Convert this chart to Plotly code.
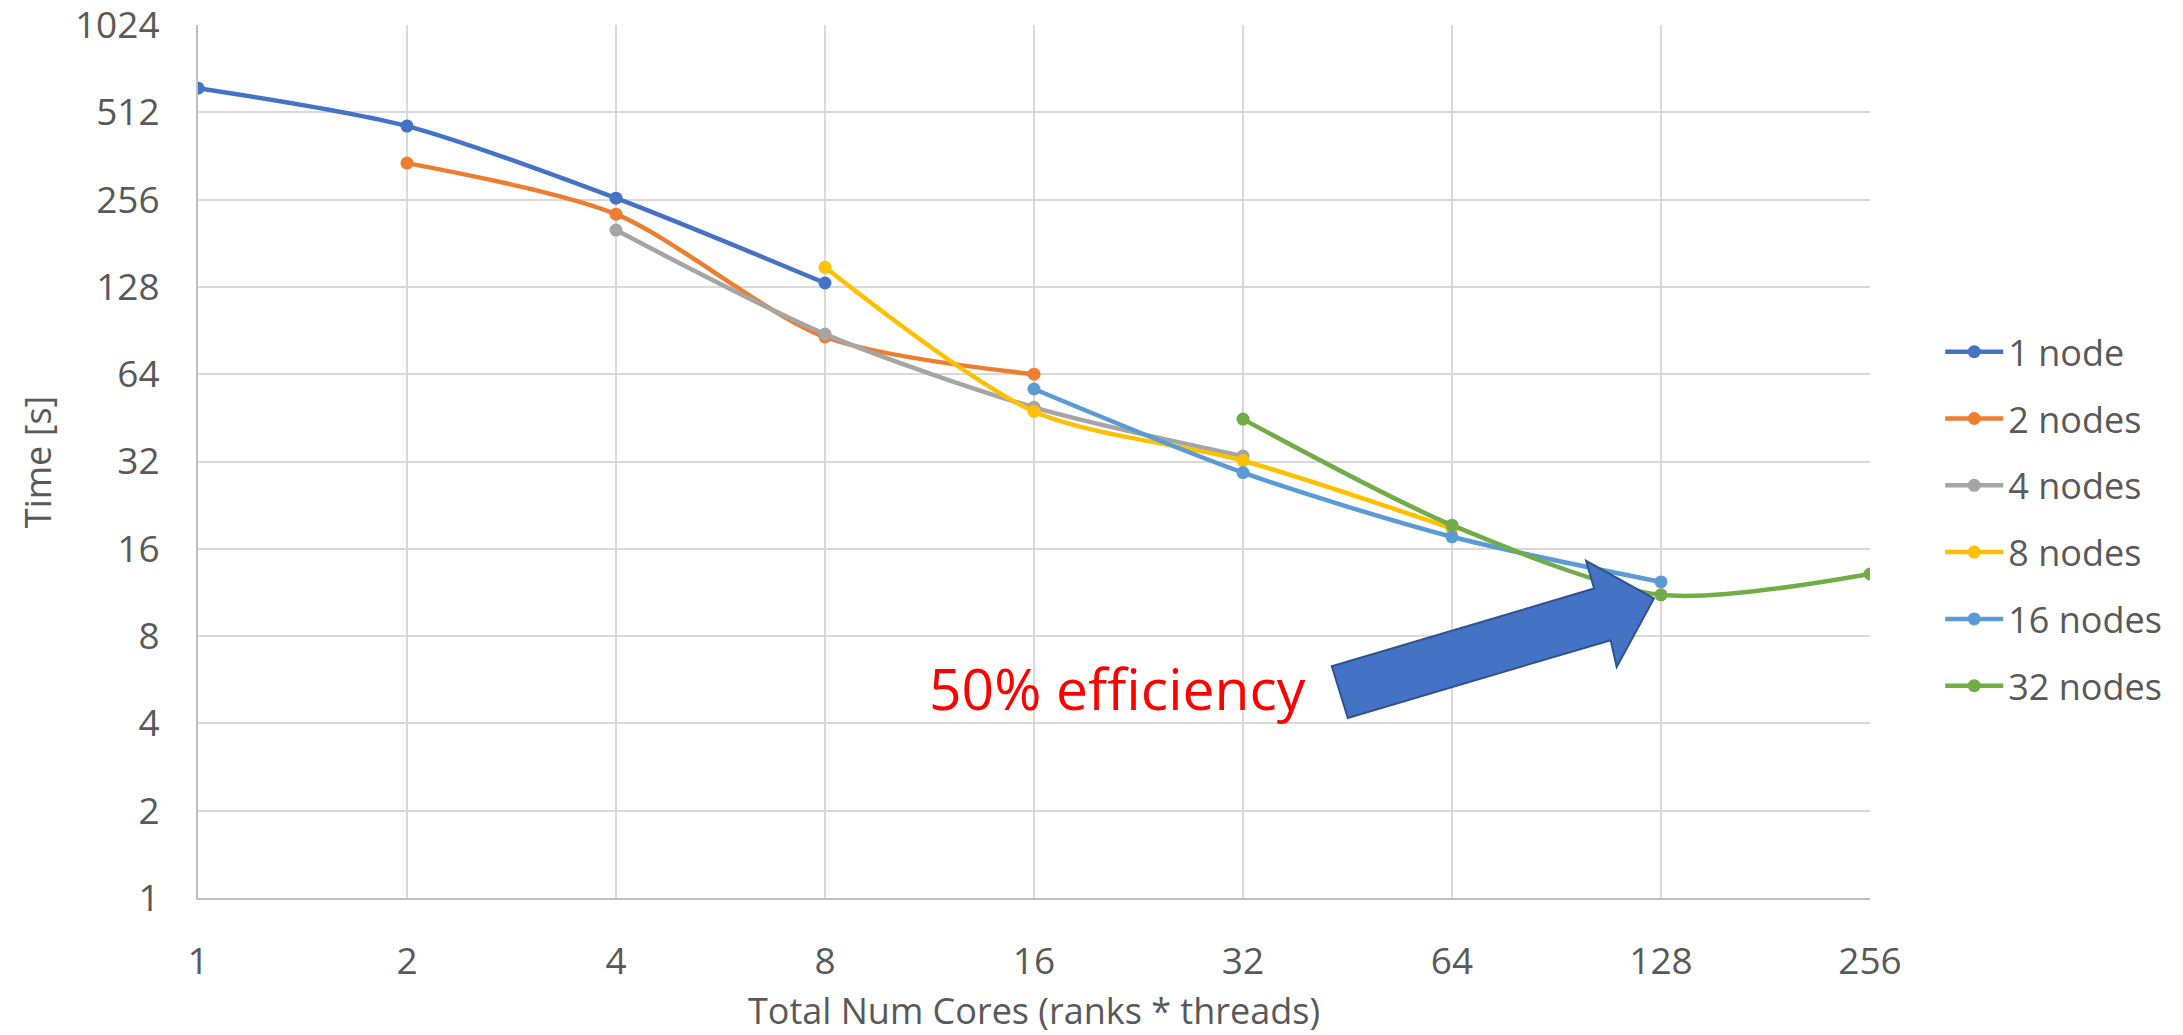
import plotly.graph_objects as go

# ---- data ----
series_names = ["1 node", "2 nodes", "4 nodes", "8 nodes", "16 nodes", "32 nodes"]
series_colors = ["#4472C4", "#ED7D31", "#A5A5A5", "#FFC000", "#5B9BD5", "#70AD47"]

cores_1 = [1, 2, 4, 8]
time_1 = [620, 459, 259, 132]

cores_2 = [2, 4, 8, 16]
time_2 = [342, 228, 86, 64]

cores_4 = [4, 8, 16, 32]
time_4 = [201, 88, 49.2, 33.4]

cores_8 = [8, 16, 32, 64]
time_8 = [149.5, 47.6, 32.2, 18.8]

cores_16 = [16, 32, 64, 128]
time_16 = [56.9, 29.3, 17.6, 12.3]

cores_32 = [32, 64, 128, 256]
time_32 = [44.8, 19.3, 11.1, 13.1]

x_ticks = [1, 2, 4, 8, 16, 32, 64, 128, 256]
y_ticks = [1, 2, 4, 8, 16, 32, 64, 128, 256, 512, 1024]

xs = [cores_1, cores_2, cores_4, cores_8, cores_16, cores_32]
ys = [time_1, time_2, time_4, time_8, time_16, time_32]

# arrow outline (paper coordinates)
arrow_x = [0.6781, 0.8350, 0.8302, 0.8708, 0.8485, 0.8449, 0.6877]
arrow_y = [0.2655, 0.3545, 0.3862, 0.3431, 0.2647, 0.2953, 0.2063]

FONT = "Open Sans"
TXT = "#595959"

fig = go.Figure()
for i, (name, col, x, y) in enumerate(zip(series_names, series_colors, xs, ys)):
    fig.add_trace(go.Scatter(
        x=x, y=y, name=name, mode="lines+markers",
        line=dict(color=col, width=4.5, shape="spline", smoothing=0.8),
        marker=dict(color=col, size=13),
        legendgroup=f"g{i}",
    ))

path = "M " + " L ".join(f"{a},{b}" for a, b in zip(arrow_x, arrow_y)) + " Z"
fig.add_shape(type="path", path=path, xref="paper", yref="paper",
              fillcolor="#4472C4", line=dict(color="#2F528F", width=2), layer="above")

fig.add_annotation(text="50% efficiency", xref="paper", yref="paper",
                   x=0.436, y=0.2403, xanchor="left", yanchor="middle",
                   showarrow=False, font=dict(family=FONT, size=57, color="#FF0000"))

# y-axis title placed as rotated text
fig.add_annotation(text="Time [s]", xref="paper", yref="paper",
                   x=-0.0959, y=0.5, xanchor="center", yanchor="middle",
                   textangle=-90, showarrow=False,
                   font=dict(family=FONT, size=36, color=TXT))

fig.update_layout(
    width=2183, height=1035,
    margin=dict(l=198, r=313, t=25, b=137, autoexpand=False),
    paper_bgcolor="white", plot_bgcolor="white",
    font=dict(family=FONT, size=36, color=TXT),
    showlegend=True,
    legend=dict(x=1.042, y=0.66, xanchor="left", yanchor="top",
                font=dict(family=FONT, size=36, color=TXT),
                itemwidth=58, tracegroupgap=17, bgcolor="rgba(0,0,0,0)"),
)

fig.update_xaxes(
    type="log", range=[0, 2.40824], tickvals=x_ticks, ticktext=[str(v) for v in x_ticks],
    showgrid=True, gridcolor="#D9D9D9", gridwidth=2,
    showline=True, linecolor="#BFBFBF", linewidth=2,
    ticks="", ticklabelstandoff=30, zeroline=False, automargin=False,
    ticklabeloverflow="allow",
    tickfont=dict(family=FONT, size=37, color=TXT),
    title=dict(text="Total Num Cores (ranks * threads)", standoff=21,
               font=dict(family=FONT, size=36, color=TXT)),
)
fig.update_yaxes(
    type="log", range=[0, 3.0103], tickvals=y_ticks, ticktext=[str(v) for v in y_ticks],
    showgrid=True, gridcolor="#D9D9D9", gridwidth=2,
    showline=True, linecolor="#BFBFBF", linewidth=2,
    ticks="", ticklabelstandoff=29, zeroline=False, automargin=False,
    ticklabeloverflow="allow",
    tickfont=dict(family=FONT, size=37, color=TXT),
)

fig.write_html("out.html")
